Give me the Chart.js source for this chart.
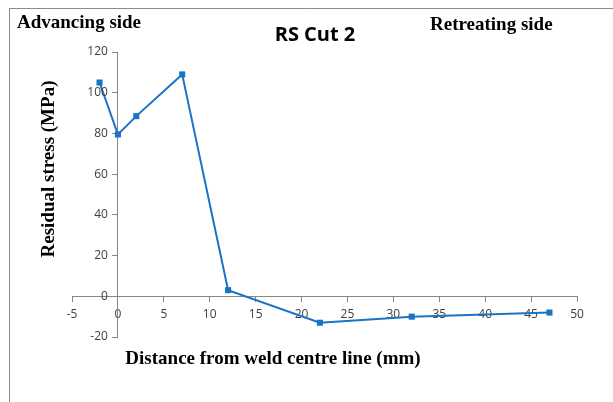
<!DOCTYPE html>
<html>
<head>
<meta charset="utf-8">
<script src="https://cdn.jsdelivr.net/npm/chart.js@4.4.0/dist/chart.umd.min.js"></script>
<style>
  html, body { margin: 0; padding: 0; background: #fff; }
  #wrap { width: 613px; height: 402px; }
</style>
</head>
<body>
<div id="wrap"><canvas id="rsChart" width="613" height="402"></canvas></div>
<script>
// distance from weld centre line (mm) and residual stress (MPa)
const distances = [-2, 0, 2, 7, 12, 22, 32, 47];
const stresses = [105, 79.5, 88.5, 109, 3, -13, -10, -8];
const xTicks = [-5, 0, 5, 10, 15, 20, 25, 30, 35, 40, 45, 50];
const yTicks = [-20, 0, 20, 40, 60, 80, 100, 120];

const lineColor = "#1a73c6";
const axisColor = "#868686";
const tickFont = "12px 'Open Sans', sans-serif";

const points = distances.map((d, i) => ({ x: d, y: stresses[i] }));

// frame, y tick labels and free text around the plot
const labelsPlugin = {
  id: "labels",
  afterDraw(chart) {
    const c = chart.ctx;
    const yScale = chart.scales.y;
    const xScale = chart.scales.x;
    c.save();
    c.strokeStyle = "#8c8c8c";
    c.lineWidth = 1;
    c.beginPath();
    c.moveTo(9.5, 402);
    c.lineTo(9.5, 8.5);
    c.lineTo(613, 8.5);
    c.stroke();

    // y axis sits at x = 0, labels go to its left
    const axisX = xScale.getPixelForValue(0);
    c.fillStyle = "#404040";
    c.font = tickFont;
    c.textAlign = "right";
    c.textBaseline = "middle";
    yTicks.forEach((v) => {
      c.fillText(String(v), axisX - 10, yScale.getPixelForValue(v));
    });

    c.fillStyle = "#000";
    c.font = "bold 19px 'Liberation Serif', serif";
    c.textAlign = "left";
    c.fillText("Advancing side", 17, 23);
    c.fillText("Retreating side", 430, 25);

    c.font = "bold 20px 'Open Sans', sans-serif";
    c.textAlign = "center";
    c.fillText("RS Cut 2", 315, 35);

    c.font = "bold 19px 'Liberation Serif', serif";
    c.fillText("Distance from weld centre line (mm)", 273, 359);

    c.translate(49, 169);
    c.rotate(-Math.PI / 2);
    c.fillText("Residual stress (MPa)", 0, 0);
    c.restore();
  },
};

new Chart(document.getElementById("rsChart"), {
  type: "scatter",
  data: {
    datasets: [
      {
        label: "RS Cut 2",
        data: points,
        showLine: true,
        borderColor: lineColor,
        backgroundColor: lineColor,
        borderWidth: 2,
        pointStyle: "rect",
        pointRadius: 4.3,
        pointBorderWidth: 0,
        tension: 0,
      },
    ],
  },
  options: {
    responsive: false,
    animation: false,
    layout: {
      padding: { left: 72, right: 36, top: 52, bottom: 65 },
    },
    plugins: {
      legend: { display: false },
      title: { display: false },
      tooltip: { enabled: false },
    },
    scales: {
      x: {
        type: "linear",
        position: { y: 0 },
        min: -5,
        max: 50,
        afterBuildTicks: (axis) => {
          axis.ticks = xTicks.map((v) => ({ value: v }));
        },
        grid: {
          drawOnChartArea: false,
          drawTicks: true,
          tickLength: 5,
          tickColor: axisColor,
        },
        border: { color: axisColor, width: 1 },
        ticks: {
          color: "#404040",
          padding: 6,
          font: { size: 12, family: "'Open Sans', sans-serif" },
        },
      },
      y: {
        type: "linear",
        position: { x: 0 },
        min: -20,
        max: 120,
        afterBuildTicks: (axis) => {
          axis.ticks = yTicks.map((v) => ({ value: v }));
        },
        grid: {
          drawOnChartArea: false,
          drawTicks: true,
          tickLength: 5,
          tickColor: axisColor,
        },
        border: { color: axisColor, width: 1 },
        ticks: { display: false },
      },
    },
  },
  plugins: [labelsPlugin],
});
</script>
</body>
</html>
